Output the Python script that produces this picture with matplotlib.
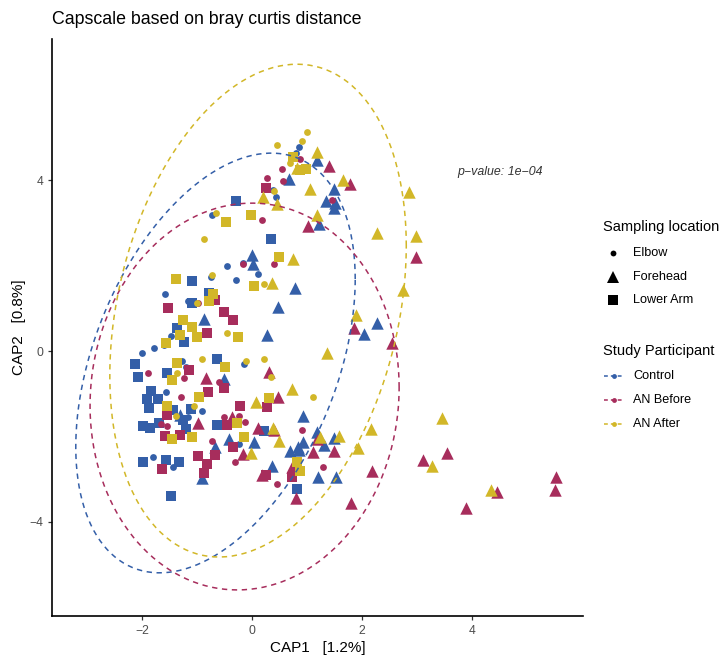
import numpy as np
import matplotlib
matplotlib.use("Agg")
import matplotlib.pyplot as plt
from matplotlib.lines import Line2D

plt.rcParams['font.family'] = ['Liberation Sans', 'DejaVu Sans']

# CAP scores, per participant group and sampling location
ctrl_elbow_x = [0.86, 0.80, 0.38, 0.44, -0.73, -0.16, -0.46, -0.75, 0.11, -0.29, -1.58, -1.17, -1.48,
                -1.60, -1.79, -2.00, -1.28, -0.15, -1.20, -1.57, -0.91, -1.17, -0.24, -1.80, -1.44]
ctrl_elbow_y = [4.77, 4.63, 3.77, 3.60, 3.18, 2.06, 1.99, 1.73, 1.80, 1.66, 1.33, 1.17, 0.35,
                0.14, 0.07, -0.05, -0.23, -0.30, -0.37, -0.96, -1.40, -1.54, -2.18, -2.48, -2.71]
ctrl_fore_x = [0.67, 1.18, 1.49, 1.35, 1.51, 1.49, 1.22, 0.00, 0.02, 0.78, 0.47, -0.87, 0.27, -0.51, 2.28, 2.04,
               -1.31, -0.42, 0.04, -0.67, 0.69, 0.86, -0.91, 0.36, 0.93, 1.18, 1.49, 1.31, 0.93, 0.84, 1.20, 1.53]
ctrl_fore_y = [4.02, 4.47, 3.79, 3.51, 3.46, 3.35, 2.97, 2.25, 2.04, 1.47, 1.03, 0.75, 0.37, -0.65, 0.65, 0.40,
               -1.50, -2.06, -2.13, -2.25, -2.34, -2.32, -2.97, -2.69, -1.52, -1.89, -2.04, -2.20, -2.13, -2.25, -2.95, -2.95]
ctrl_arm_x = [-0.29, 0.35, -1.09, -0.78, -1.09, -1.37, -1.24, -2.13, -0.64, -1.55, -2.08, -1.84, -1.91, -1.71, -1.88,
              -1.44, -1.11, -1.26, -0.64, -1.99, -1.86, -1.69, -1.20, 0.22, -1.99, -1.57, -1.33, 0.82, -1.48]
ctrl_arm_y = [3.51, 2.62, 1.64, 1.36, 1.12, 0.54, 0.21, -0.30, -0.19, -0.51, -0.61, -0.94, -1.12, -1.12, -1.33,
              -1.38, -1.36, -1.61, -1.73, -1.75, -1.80, -1.68, -1.82, -1.87, -2.60, -2.55, -2.60, -3.23, -3.39]

before_elbow_x = [0.55, 0.87, 0.27, 0.56, 0.18, -0.16, 0.40, -0.98, 1.46, -1.24, -1.89, -0.60, -1.29, -0.51,
                  -0.24, -0.13, -1.66, -1.55, -0.73, -0.31, 0.46, 0.91, 1.29]
before_elbow_y = [4.26, 4.49, 4.05, 3.98, 3.06, 2.04, 2.04, 1.12, 3.53, -0.63, -0.51, -0.73, -1.08, -1.54,
                  -1.52, -1.66, -1.71, -1.75, -2.11, -2.60, -3.11, -1.85, -2.71]
before_fore_x = [1.40, 1.79, 1.02, 2.99, -0.84, 0.31, 0.47, 1.86, 2.55, -0.98, -0.36, 0.11, 0.40, -0.16, 0.18, 0.73,
                 0.80, 1.18, 1.11, 1.49, 2.19, 1.80, 3.11, 3.55, 4.46, 3.90, 5.54, 5.52]
before_fore_y = [4.33, 3.91, 2.92, 2.20, -0.63, -0.49, -1.08, 0.54, 0.19, -1.68, -1.54, -1.80, -1.85, -2.41, -2.90, -2.71,
                 -3.44, -2.06, -2.36, -2.34, -2.81, -3.56, -2.55, -2.39, -3.30, -3.67, -2.95, -3.25]
before_arm_x = [0.26, -0.67, -1.53, -0.51, -0.35, -0.82, -1.15, -0.51, -0.80, 0.27, -1.55, -0.22, -0.46, -1.58,
                -1.31, -0.67, -0.35, -0.98, -0.82, -1.64, -0.87, 0.26, 0.73]
before_arm_y = [3.81, 1.19, 1.01, 0.91, 0.73, 0.42, -0.44, -0.87, -0.96, -1.31, -1.50, -1.29, -1.73, -1.99,
                -1.96, -2.43, -2.25, -2.46, -2.64, -2.76, -2.85, -2.90, -2.95]

after_elbow_x = [1.00, 0.91, 0.46, 0.69, 0.40, -0.66, -0.87, -0.73, 0.22, -1.00, -0.46, -0.91, -0.11, 0.22,
                 -1.37, 0.35, -1.06, -1.38, 1.11]
after_elbow_y = [5.12, 4.91, 4.82, 4.40, 3.74, 3.23, 2.62, 1.78, 1.57, 1.12, 0.42, -0.19, -0.23, -0.19,
                 -0.51, -0.61, -1.29, -1.52, -1.08]
after_fore_x = [0.82, 1.18, 0.20, 0.46, 1.66, 1.06, 1.18, 0.75, 0.36, 2.28, 2.86, 2.99, 2.75, 1.89, 1.37, 0.73, 0.07,
                0.38, 0.49, -0.02, 1.24, 1.58, 1.93, 2.17, 3.46, 3.28, 4.35]
after_fore_y = [4.28, 4.65, 3.60, 3.44, 4.00, 3.79, 3.18, 2.15, 1.59, 2.76, 3.72, 2.69, 1.43, 0.84, -0.05, -0.89, -1.19,
                -1.80, -2.11, -2.39, -2.01, -1.99, -2.27, -1.82, -1.57, -2.69, -3.25]
after_arm_x = [0.75, 0.87, 0.98, -0.47, -0.02, 0.49, -1.38, 0.04, -0.71, -0.78, -1.26, -1.09, -1.00, -1.31, -0.26,
               -1.57, -0.49, -1.37, -1.46, -0.97, 0.31, -1.55, -0.27, -1.46, -1.09, -0.15, 0.82, 0.87]
after_arm_y = [4.54, 4.23, 4.26, 3.02, 3.18, 2.20, 1.68, 1.52, 1.33, 1.17, 0.73, 0.56, 0.33, 0.37, 0.33,
               0.19, -0.37, -0.28, -0.68, -1.08, -1.10, -1.29, -1.68, -2.06, -2.01, -2.01, -2.60, -2.81]

groups = ['Control', 'AN Before', 'AN After']
group_colors = ['#345FA8', '#A72D5C', '#D2B728']
locations = ['Elbow', 'Forehead', 'Lower Arm']

# 95% ellipse per group: centre, spread along each axis, correlation
ell_cx = [-0.665, -0.135, 0.11]
ell_cy = [-0.28, -1.065, 0.945]
ell_sx = [2.545, 2.815, 2.70]
ell_sy = [4.91, 4.525, 5.765]
ell_r = [0.40, 0.047, 0.263]

data = {
    'Control': [(ctrl_elbow_x, ctrl_elbow_y), (ctrl_fore_x, ctrl_fore_y), (ctrl_arm_x, ctrl_arm_y)],
    'AN Before': [(before_elbow_x, before_elbow_y), (before_fore_x, before_fore_y), (before_arm_x, before_arm_y)],
    'AN After': [(after_elbow_x, after_elbow_y), (after_fore_x, after_fore_y), (after_arm_x, after_arm_y)],
}
markers = ['o', '^', 's']
sizes = [24, 80, 58]

fig = plt.figure(figsize=(7.21, 6.57), dpi=100)
ax = fig.add_axes([52/721, 1 - 616/657, (583 - 52)/721, (616 - 39)/657])

for g, col in zip(groups, group_colors):
    for (xs, ys), m, s in zip(data[g], markers, sizes):
        ax.scatter(xs, ys, marker=m, s=s, color=col, linewidths=0, zorder=2)

t = np.linspace(0, 2*np.pi, 300)
for i, col in enumerate(group_colors):
    cov = np.array([[ell_sx[i]**2, ell_r[i]*ell_sx[i]*ell_sy[i]],
                    [ell_r[i]*ell_sx[i]*ell_sy[i], ell_sy[i]**2]])
    L = np.linalg.cholesky(cov)
    pts = (L @ np.vstack([np.cos(t), np.sin(t)])).T
    ax.plot(ell_cx[i] + pts[:, 0], ell_cy[i] + pts[:, 1], color=col, lw=1.1,
            dashes=(3.5, 3), zorder=3)

ax.text(4.52, 4.19, 'p\u2212value: 1e\u221204', style='italic', fontsize=8.9,
        color='#333333', ha='center', va='center')

ax.set_xlim(-3.643, 6.029)
ax.set_ylim(-6.20, 7.30)
ax.set_xticks([-2, 0, 2, 4])
ax.set_yticks([-4, 0, 4])
for sp in ['top', 'right']:
    ax.spines[sp].set_visible(False)
for sp in ['left', 'bottom']:
    ax.spines[sp].set_linewidth(1.2)
ax.tick_params(length=3, width=0.9, color='#333333', labelcolor='#4D4D4D', labelsize=8.7)
ax.set_xlabel('CAP1   [1.2%]', fontsize=11, labelpad=3)
ax.set_ylabel('CAP2   [0.8%]', fontsize=11, labelpad=2)

# title and legends drawn on a pixel-based overlay
ov = fig.add_axes([0, 0, 1, 1], zorder=5)
ov.set_xlim(0, 721)
ov.set_ylim(657, 0)
ov.axis('off')
ov.patch.set_alpha(0)

ov.text(52, 20, 'Capscale based on bray curtis distance', fontsize=12.8, ha='left', va='center')

ov.text(603, 227, 'Sampling location', fontsize=10.5, ha='left', va='center')
for lab, m, ms, y in zip(locations, markers, [4.2, 8.5, 7.0], [253, 277, 300]):
    ov.plot([613], [y], marker=m, ms=ms, color='black', mew=0, ls='none')
    ov.text(633, y, lab, fontsize=9.1, ha='left', va='center')

ov.text(603, 351, 'Study Participant', fontsize=10.5, ha='left', va='center')
for lab, col, y in zip(groups, group_colors, [376, 400, 424]):
    ov.add_line(Line2D([604, 624], [y, y], color=col, lw=1.1, dashes=(2.5, 2)))
    ov.plot([614], [y], marker='o', ms=3.5, color=col, mew=0, ls='none')
    ov.text(633, y, lab, fontsize=9.1, ha='left', va='center')

fig.savefig('out.png', dpi=100)
